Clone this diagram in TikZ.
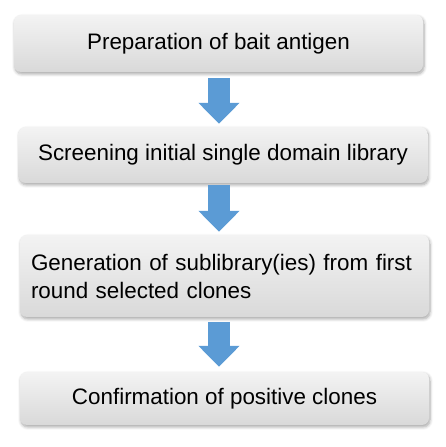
\documentclass[tikz,border=0pt]{standalone}
\usepackage{fontspec}
\setmainfont{Liberation Sans}
\usetikzlibrary{calc,arrows.meta,shadows.blur}
\definecolor{arrowblue}{HTML}{5B9BD5}
\definecolor{boxtop}{HTML}{F3F3F3}
\definecolor{boxbot}{HTML}{D9D9D9}
\begin{document}
\begin{tikzpicture}[x=1pt,y=1pt,
  stepbox/.style={rounded corners=7pt, top color=boxtop, bottom color=boxbot,
    minimum width=409pt, inner sep=0pt, font=\fontsize{22.4}{28}\selectfont,
    blur shadow={shadow xshift=1pt, shadow yshift=-2pt, shadow blur steps=6, shadow blur radius=3pt, shadow opacity=35}},
  bigarrow/.style={draw=arrowblue, line width=22pt, line cap=butt,
    -{Triangle[width=40pt,length=21pt]}}]
\useasboundingbox (0,0) rectangle (445,447);
\node[stepbox, minimum height=57pt] (b1) at (218.5,403.5) {Preparation of bait antigen};
\node[stepbox, minimum height=56pt] (b2) at (223,292) {Screening initial single domain library};
\node[stepbox, minimum height=82pt, text width=387pt, inner xsep=11pt, align=left] (b3) at (224.5,171) {Generation of sublibrary(ies) from first\\round selected clones};
\node[stepbox, minimum height=53pt] (b4) at (224.5,48.5) {Confirmation of positive clones};
\coordinate (ax) at (219,0);
\draw[bigarrow] ($(ax |- b1.south)+(0,-6)$) -- ($(ax |- b2.north)+(0,3)$);
\draw[bigarrow] ($(ax |- b2.south)+(0,-2)$) -- ($(ax |- b3.north)+(0,3)$);
\draw[bigarrow] ($(ax |- b3.south)+(0,-5)$) -- ($(ax |- b4.north)+(0,5)$);
\end{tikzpicture}
\end{document}
